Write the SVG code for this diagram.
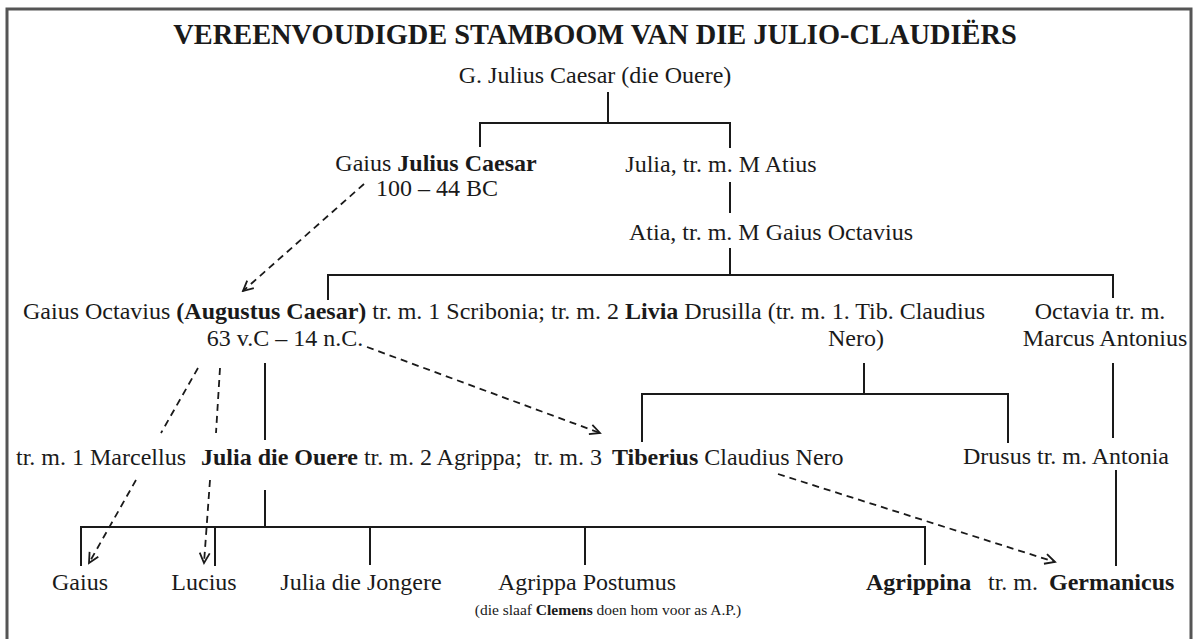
<svg xmlns="http://www.w3.org/2000/svg" width="1194" height="639" viewBox="0 0 1194 639">
<defs>
<style>
text{font-family:"Liberation Serif","Times New Roman",serif;fill:#1a1a1a;}
.t{font-size:24px;}
.b{font-weight:bold;}
.title{font-size:28.4px;font-weight:bold;}
.sm{font-size:15.5px;}
.ln{stroke:#1a1a1a;stroke-width:2;fill:none;}
.dash{stroke:#1a1a1a;stroke-width:1.8;fill:none;stroke-dasharray:7,5;}
</style>
<marker id="arr" markerWidth="14" markerHeight="14" refX="12" refY="7" orient="auto" markerUnits="userSpaceOnUse">
<polyline points="2,2 12,7 2,12" fill="none" stroke="#1a1a1a" stroke-width="1.8"/>
</marker>
</defs>
<rect x="0" y="0" width="1194" height="639" fill="#fff"/>
<path d="M7,650 V9 H1191 V650" fill="none" stroke="#555" stroke-width="3"/>
<text class="title" x="595" y="44" text-anchor="middle">VEREENVOUDIGDE STAMBOOM VAN DIE JULIO-CLAUDIËRS</text>
<g id="connectors">
<path class="ln" d="M608,92 V123 M480,147 V123 H730 V148"/>
<path class="ln" d="M730,182 V213"/>
<path class="ln" d="M730,248 V275 M328,300 V275 H1113 V298"/>
<path class="ln" d="M864,363 V394 M642,442 V394 H1008 V443"/>
<path class="ln" d="M1113,363 V438 M1116,470 V566"/>
<path class="ln" d="M265,363 V440 M265,490 V527"/>
<path class="ln" d="M81,566 V527 H925 V565 M215,527 V566 M370,527 V565 M585,527 V565"/>
<path class="dash" d="M364,184 L243,291" marker-end="url(#arr)"/>
<path class="dash" d="M367,347 L600,433" marker-end="url(#arr)"/>
<path class="dash" d="M198,368 L161,433"/>
<path class="dash" d="M136,480 L89,563" marker-end="url(#arr)"/>
<path class="dash" d="M220,368 L216,433"/>
<path class="dash" d="M210,480 L204,563" marker-end="url(#arr)"/>
<path class="dash" d="M778,474 L1055,562" marker-end="url(#arr)"/>
</g>
<g id="n-gjc-ouere"><text class="t" x="595" y="83" text-anchor="middle">G. Julius Caesar (die Ouere)</text></g>
<g id="n-julius-caesar"><text class="t" x="436" y="171" text-anchor="middle">Gaius <tspan class="b">Julius Caesar</tspan></text>
<text class="t" x="437" y="196" text-anchor="middle">100 – 44 BC</text></g>
<g id="n-julia"><text class="t" x="721" y="172" text-anchor="middle">Julia, tr. m. M Atius</text></g>
<g id="n-atia"><text class="t" x="771" y="240" text-anchor="middle">Atia, tr. m. M Gaius Octavius</text></g>
<g id="n-augustus"><text class="t" x="23" y="319">Gaius Octavius <tspan class="b">(Augustus Caesar)</tspan> tr. m. 1 Scribonia; tr. m. 2 <tspan class="b">Livia</tspan> Drusilla (tr. m. 1. Tib. Claudius</text>
<text class="t" x="856" y="346" text-anchor="middle">Nero)</text>
<text class="t" x="285" y="346" text-anchor="middle">63 v.C – 14 n.C.</text></g>
<g id="n-octavia"><text class="t" x="1100" y="319" text-anchor="middle">Octavia tr. m.</text>
<text class="t" x="1105" y="346" text-anchor="middle">Marcus Antonius</text></g>
<g id="n-julia-ouere"><text class="t" x="16" y="465">tr. m. 1 Marcellus</text>
<text class="t" x="201" y="465" xml:space="preserve"><tspan class="b">Julia die Ouere</tspan> tr. m. 2 Agrippa;  tr. m. 3</text></g>
<g id="n-tiberius"><text class="t" x="612" y="465"><tspan class="b">Tiberius</tspan> Claudius Nero</text></g>
<g id="n-drusus"><text class="t" x="1066" y="464" text-anchor="middle">Drusus tr. m. Antonia</text></g>
<g id="n-gaius"><text class="t" x="80" y="590" text-anchor="middle">Gaius</text></g>
<g id="n-lucius"><text class="t" x="204" y="590" text-anchor="middle">Lucius</text></g>
<g id="n-julia-jongere"><text class="t" x="361" y="590" text-anchor="middle">Julia die Jongere</text></g>
<g id="n-agrippa-postumus"><text class="t" x="587" y="590" text-anchor="middle">Agrippa Postumus</text>
<text class="sm" x="608" y="615" text-anchor="middle">(die slaaf <tspan class="b">Clemens</tspan> doen hom voor as A.P.)</text></g>
<g id="n-agrippina"><text class="t" y="590"><tspan class="b" x="866">Agrippina</tspan><tspan x="988">tr. m.</tspan><tspan class="b" x="1049">Germanicus</tspan></text></g>
</svg>
